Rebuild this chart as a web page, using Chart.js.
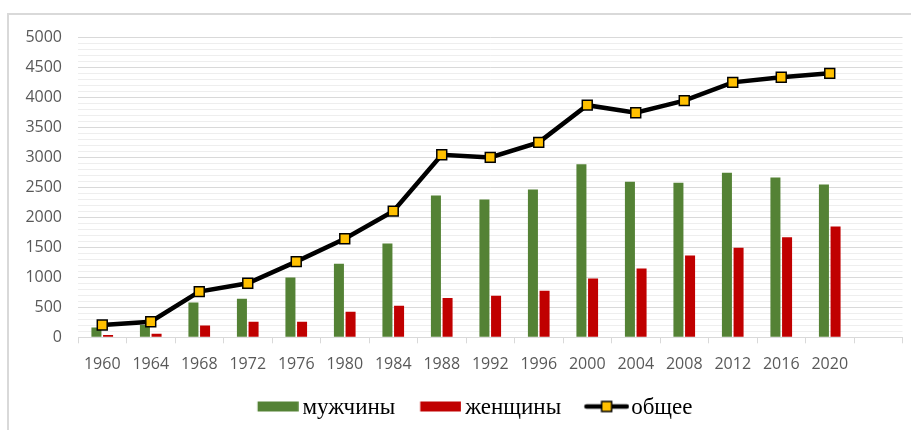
<!DOCTYPE html>
<html>
<head>
<meta charset="utf-8">
<script src="https://cdn.jsdelivr.net/npm/chart.js@4.4.0/dist/chart.umd.min.js"></script>
<style>
  body { margin: 0; background: #fff; overflow: hidden; }
  #frame { position: absolute; left: 7px; top: 13px; width: 1000px; height: 500px; border: 2px solid #d9d9d9; }
  #chart { position: absolute; left: 0; top: 0; }
</style>
</head>
<body>
<div id="frame"></div>
<canvas id="chart" width="911" height="430"></canvas>
<script>
// years (last category is left empty, as in the original)
var years = ['1960', '1964', '1968', '1972', '1976', '1980', '1984', '1988', '1992', '1996',
             '2000', '2004', '2008', '2012', '2016', '2020', ''];
var seriesNames = ['мужчины', 'женщины', 'общее'];
var men   = [165, 205, 580, 640, 995, 1225, 1560, 2360, 2295, 2460, 2880, 2590, 2575, 2740, 2660, 2545];
var women = [40, 60, 195, 260, 260, 425, 525, 655, 690, 775, 980, 1145, 1360, 1490, 1665, 1845];
var total = [205, 260, 760, 900, 1260, 1640, 2100, 3040, 2995, 3245, 3865, 3740, 3940, 4245, 4330, 4395];

var menColor = '#548235';
var womenColor = '#c00000';
var markerColor = '#ffc000';
var tickFont = { family: 'Open Sans', size: 16 };

// little pictures used as legend symbols
function legendIcon(kind, color) {
	var c = document.createElement('canvas');
	c.width = kind == 'line' ? 68 : 64;
	c.height = 24;
	var g = c.getContext('2d');
	var cy = 11;
	if (kind == 'line') {
		g.strokeStyle = '#000';
		g.lineWidth = 4.5;
		g.lineCap = 'round';
		g.beginPath();
		g.moveTo(25, cy);
		g.lineTo(65.5, cy);
		g.stroke();
		g.fillStyle = markerColor;
		g.fillRect(40.25, cy - 5, 10, 10);
		g.lineWidth = 1.5;
		g.strokeRect(40.25, cy - 5, 10, 10);
	} else {
		g.fillStyle = color;
		g.fillRect(22.75, cy - 5, 41, 10);
	}
	return c;
}

// nudge the legend a bit to the right, like in the original
var legendShift = {
	id: 'legendShift',
	afterLayout: function(chart) {
		chart.legend.left += 6;
		chart.legend.right += 6;
	}
};

var ctx = document.getElementById('chart').getContext('2d');
var chart = new Chart(ctx, {
	data: {
		labels: years,
		datasets: [{
			type: 'bar',
			label: seriesNames[0],
			data: men,
			backgroundColor: menColor,
			categoryPercentage: 0.48,
			barPercentage: 0.86,
			order: 1
		}, {
			type: 'bar',
			label: seriesNames[1],
			data: women,
			backgroundColor: womenColor,
			categoryPercentage: 0.48,
			barPercentage: 0.86,
			order: 1
		}, {
			type: 'line',
			label: seriesNames[2],
			data: total,
			borderColor: '#000',
			borderWidth: 4.5,
			tension: 0,
			pointStyle: 'rect',
			pointRadius: 7,
			pointBackgroundColor: markerColor,
			pointBorderColor: '#000',
			pointBorderWidth: 1.5,
			order: 0
		}]
	},
	plugins: [legendShift],
	options: {
		responsive: false,
		animation: false,
		layout: { padding: { left: 20, right: 8, top: 37, bottom: 1 } },
		plugins: {
			tooltip: { enabled: false },
			legend: {
				position: 'bottom',
				labels: {
					usePointStyle: true,
					pointStyleWidth: 48.5,
					padding: 10,
					color: '#000',
					font: { family: 'Liberation Serif', size: 23 },
					generateLabels: function(chart) {
						return [
							{ text: seriesNames[0], pointStyle: legendIcon('bar', menColor), datasetIndex: 0, lineWidth: 0, hidden: false },
							{ text: seriesNames[1], pointStyle: legendIcon('bar', womenColor), datasetIndex: 1, lineWidth: 0, hidden: false },
							{ text: seriesNames[2], pointStyle: legendIcon('line'), datasetIndex: 2, lineWidth: 0, hidden: false }
						];
					}
				}
			}
		},
		scales: {
			x: {
				offset: true,
				grid: { offset: true, drawOnChartArea: false, drawTicks: true, tickLength: 6, color: '#d9d9d9' },
				border: { color: '#d9d9d9' },
				ticks: { color: '#595959', font: tickFont, padding: 12, maxRotation: 0, autoSkip: false },
				afterFit: function(scale) { scale.height = 48.7; }
			},
			y: {
				min: 0,
				max: 5000,
				border: { display: false },
				grid: {
					drawTicks: false,
					color: function(c) { return c.tick && c.tick.value % 500 === 0 ? '#d9d9d9' : '#eeeeee'; }
				},
				ticks: {
					stepSize: 100,
					maxTicksLimit: 100,
					autoSkip: false,
					padding: 16,
					color: '#595959',
					font: tickFont,
					callback: function(v) { return v % 500 === 0 ? v : ''; }
				},
				afterFit: function(scale) { scale.width = 58; }
			}
		}
	}
});
</script>
</body>
</html>
